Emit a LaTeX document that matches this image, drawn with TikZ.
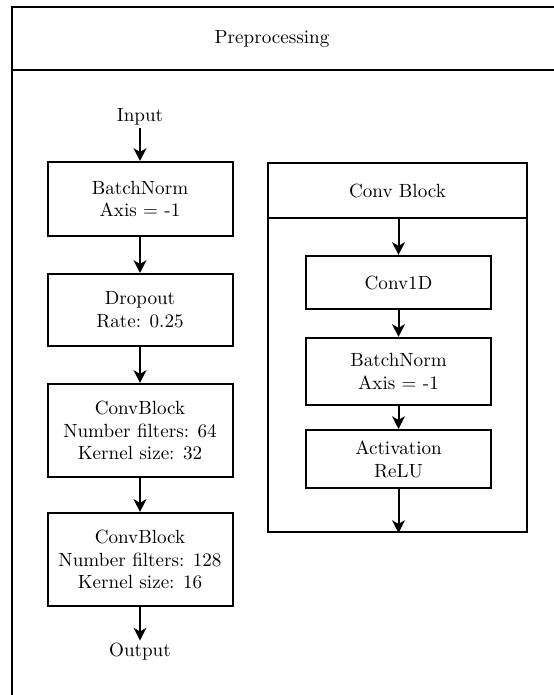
\documentclass[tikz,border=0pt]{standalone}
\usetikzlibrary{arrows.meta}
\begin{document}
\begin{tikzpicture}[x=0.55pt,y=-0.55pt,
  line width=1.1pt,
  every node/.style={font=\fontsize{10.5}{12.6}\selectfont},
  block/.style={draw,line width=1.1pt,align=center,minimum width=101.75pt,inner sep=0pt},
  label/.style={align=center,inner sep=1pt},
  flow/.style={-{Stealth[length=7pt,width=7pt,inset=2pt]},line width=1.1pt}]
\useasboundingbox (0,0) rectangle (554,695);
\begin{scope}
\clip (0,0) rectangle (554,695);
% outer container with its header band
\node[draw,line width=1.1pt,anchor=north west,minimum width=330pt,minimum height=400pt,inner sep=0pt] (pre) at (10.5,6.5) {};
\draw (10.5,70.5) coordinate (preL) -- (600,70.5) coordinate (preR);
\node[label] (pretitle) at (272,39) {Preprocessing};

% main pipeline
\node[label] (in) at (140,117) {Input};
\node[block,minimum height=40.7pt] (bn) at (140,199) {BatchNorm\\Axis = -1};
\node[block,minimum height=39.6pt] (drop) at (140,310) {Dropout\\Rate: 0.25};
\node[block,minimum height=51.2pt] (cb1) at (140,430.5) {ConvBlock\\Number filters: 64\\Kernel size: 32};
\node[block,minimum height=51.2pt] (cb2) at (140,559.5) {ConvBlock\\Number filters: 128\\Kernel size: 16};
\node[label] (out) at (140,652) {Output};

\draw[flow] (in) -- (bn);
\draw[flow] (bn) -- (drop);
\draw[flow] (drop) -- (cb1);
\draw[flow] (cb1) -- (cb2);
\draw[flow] (cb2) -- (out);

% conv block detail
\node[draw,line width=1.1pt,minimum width=142.45pt,minimum height=202.95pt,inner sep=0pt] (cb) at (397.5,347.5) {};
\draw (268,218) coordinate (cbL) -- (527,218) coordinate (cbR);
\node[label] (cbtitle) at (397.5,190.5) {Conv Block};

\node[block,minimum height=29.2pt] (conv) at (398.5,282.5) {Conv1D};
\node[block,minimum height=36.9pt] (bn2) at (398.5,371.5) {BatchNorm\\Axis = -1};
\node[block,minimum height=31.9pt] (act) at (398.5,459) {Activation\\ReLU};
\coordinate (cbin) at (conv.north |- cbL);

\draw[flow] (cbin) -- (conv);
\draw[flow] (conv) -- (bn2);
\draw[flow] (bn2) -- (act);
\draw[flow] (act) -- (act |- cb.south);
\end{scope}
\end{tikzpicture}
\end{document}
